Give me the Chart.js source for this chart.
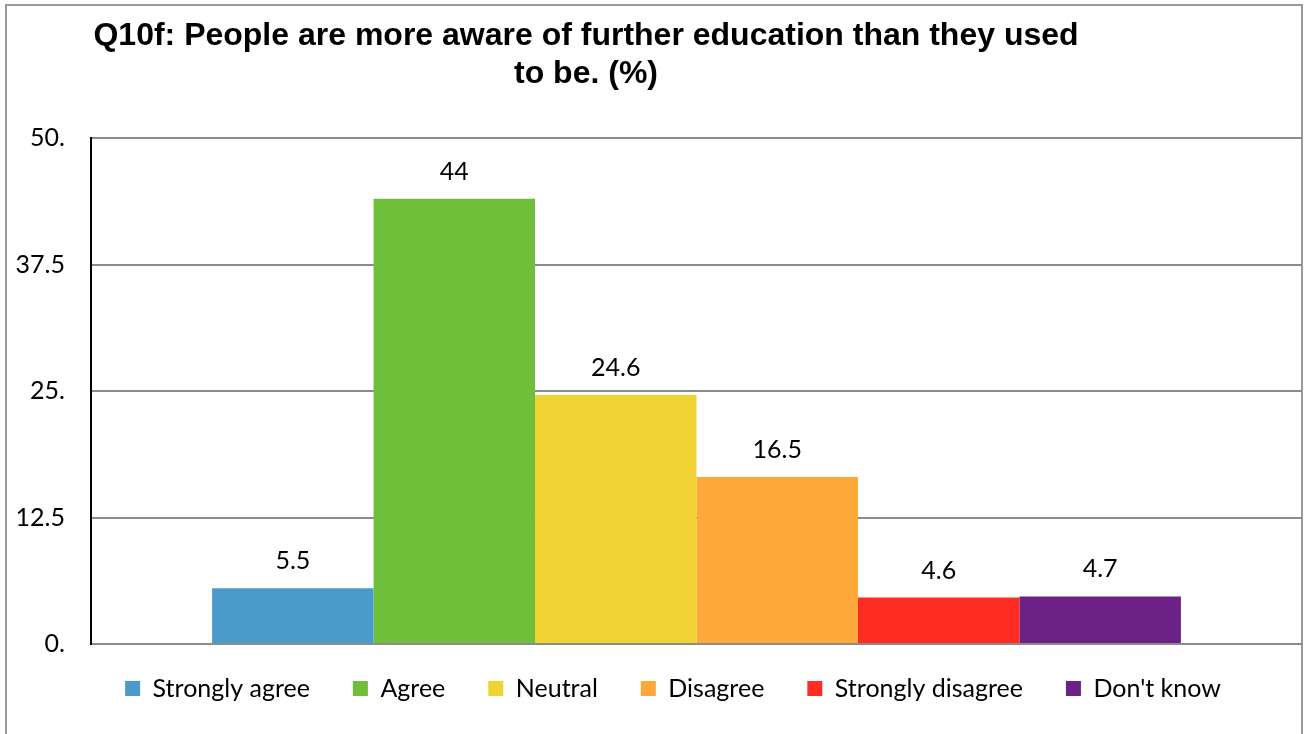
<!DOCTYPE html>
<html>
<head>
<meta charset="utf-8">
<script src="https://cdn.jsdelivr.net/npm/chart.js@4/dist/chart.umd.min.js"></script>
<style>
  html, body { margin: 0; padding: 0; background: #fff; }
  #wrap { position: relative; width: 1304px; height: 734px; }
</style>
</head>
<body>
<div id="wrap"><canvas id="chart" width="1304" height="734"></canvas></div>
<script>
const titleLines = ['Q10f: People are more aware of further education than they used', 'to be. (%)'];
const categories = [''];
const seriesNames = ['Strongly agree', 'Agree', 'Neutral', 'Disagree', 'Strongly disagree', "Don't know"];
const seriesValues = [5.5, 44, 24.6, 16.5, 4.6, 4.7];
const seriesColors = ['#4a9bcb', '#70bf3a', '#f0d232', '#ffa83a', '#ff2c24', '#6b2185'];
const tickValues = [0, 12.5, 25, 37.5, 50];
const tickLabels = ['0.', '12.5', '25.', '37.5', '50.'];

const FONT = 'Lato, "Open Sans", sans-serif';

// frame + title drawn on the canvas
const framePlugin = {
  id: 'frame',
  beforeDraw(chart) {
    const ctx = chart.ctx;
    ctx.save();
    ctx.fillStyle = '#fff';
    ctx.fillRect(0, 0, chart.width, chart.height);
    ctx.strokeStyle = '#9a9a9a';
    ctx.lineWidth = 2;
    ctx.strokeRect(6, 5, 1296, 740);
    ctx.fillStyle = '#000';
    ctx.font = 'bold 32px "Liberation Sans", Arial, sans-serif';
    ctx.textAlign = 'center';
    ctx.textBaseline = 'alphabetic';
    ctx.fillText(titleLines[0], 586, 45);
    ctx.fillText(titleLines[1], 586, 83);
    ctx.restore();
  }
};

// nudge the legend a bit up and to the right, like the original
const legendNudge = {
  id: 'legendNudge',
  afterLayout(chart) {
    const lg = chart.legend;
    if (!lg) return;
    lg.top -= 11; lg.bottom -= 11;
    lg.left += 22; lg.right += 22;
  }
};

// value labels above each bar
const valueLabels = {
  id: 'valueLabels',
  afterDatasetsDraw(chart) {
    const ctx = chart.ctx;
    ctx.save();
    ctx.fillStyle = '#000';
    ctx.font = '25px ' + FONT;
    ctx.textAlign = 'center';
    ctx.textBaseline = 'middle';
    chart.data.datasets.forEach((ds, i) => {
      const meta = chart.getDatasetMeta(i);
      meta.data.forEach((bar, j) => {
        ctx.fillText(String(ds.data[j]), bar.x, bar.y - 27);
      });
    });
    ctx.restore();
  }
};

const datasets = seriesNames.map((name, i) => ({
  label: name,
  data: [seriesValues[i]],
  backgroundColor: seriesColors[i],
  borderWidth: 0,
  categoryPercentage: 0.8,
  barPercentage: 1.0
}));

new Chart(document.getElementById('chart').getContext('2d'), {
  type: 'bar',
  data: { labels: categories, datasets: datasets },
  options: {
    responsive: false,
    animation: false,
    layout: { padding: { top: 138, right: 2, left: 0, bottom: 12 } },
    plugins: {
      title: { display: false },
      tooltip: { enabled: false },
      legend: {
        display: true,
        position: 'bottom',
        labels: {
          boxWidth: 15,
          boxHeight: 15,
          padding: 43,
          color: '#000',
          font: { family: FONT, size: 25 }
        }
      }
    },
    scales: {
      x: {
        grid: { display: false, drawTicks: false },
        border: { display: true, color: '#8c8c8c', width: 2 },
        ticks: { display: false }
      },
      y: {
        min: 0,
        max: 50,
        afterBuildTicks(scale) {
          scale.ticks = tickValues.map(v => ({ value: v }));
        },
        afterFit(scale) { scale.width = 91; },
        grid: { color: '#8c8c8c', lineWidth: 2, drawTicks: false },
        border: { display: true, color: '#000', width: 2 },
        ticks: {
          color: '#000',
          padding: 26,
          font: { family: FONT, size: 25 },
          callback: (v) => tickLabels[tickValues.indexOf(v)]
        }
      }
    }
  },
  plugins: [framePlugin, legendNudge, valueLabels]
});
</script>
</body>
</html>
